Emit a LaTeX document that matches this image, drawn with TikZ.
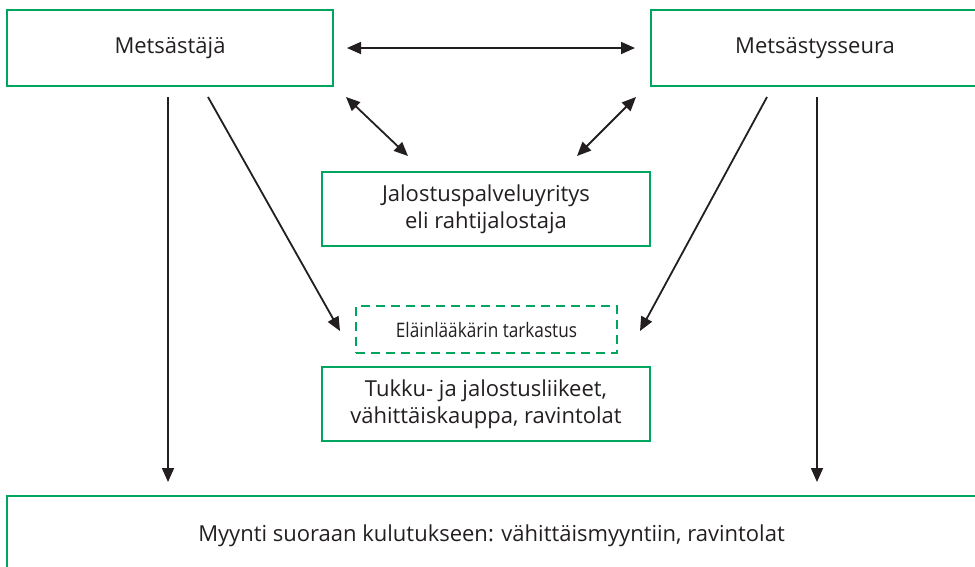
\documentclass[tikz,border=0pt]{standalone}
\usepackage{fontspec}
\setmainfont{Open Sans}
\newfontfamily\narrowfont[FakeStretch=0.86]{Open Sans}
\usepackage{tikz}
\usetikzlibrary{arrows.meta, positioning}
\definecolor{boxgreen}{HTML}{00A65E}
\definecolor{ink}{HTML}{231F20}
\tikzstyle{block} = [rectangle, draw=boxgreen, line width=2pt, text=ink,
                 align=center, font=\fontsize{22}{27}\selectfont]
\tikzstyle{branch} = [draw=ink, line width=1.8pt, -{Triangle[length=14pt,width=12pt]}]
\tikzset{
	checkbox/.style={block, dashed, dash pattern=on 9pt off 6pt,
		font=\narrowfont\fontsize{20}{24}\selectfont},
	both/.style={branch, {Triangle[length=14pt,width=12pt]}-{Triangle[length=14pt,width=12pt]}},
}
\begin{document}
\begin{tikzpicture}[x=1pt, y=-1pt]
\useasboundingbox (0,0) rectangle (975,566);

\node [block, minimum width=326, minimum height=76] at (170,48) (hunter) {Metsästäjä};
\node [block, minimum width=328, minimum height=76] at (815,48) (club) {Metsästysseura};
\node [block, minimum width=328, minimum height=74] at (486,209) (processor) {Jalostuspalveluyritys\\eli rahtijalostaja};
\node [checkbox, minimum width=261, minimum height=47] at (486.5,329.5) (vet) {Eläinlääkärin tarkastus};
\node [block, minimum width=328, minimum height=74] at (486,404) (trade) {Tukku- ja jalostusliikeet,\\vähittäiskauppa, ravintolat};
\node [block, minimum width=969, minimum height=80] at (491.5,536) (sale) {Myynti suoraan kulutukseen: vähittäismyyntiin, ravintolat};

%arrow ends
\coordinate (hp) at (346,97);
\coordinate (ph) at (408,156);
\coordinate (cp) at (636,97);
\coordinate (pc) at (577,156);
\coordinate (hv) at (208,97);
\coordinate (vh) at (340,331);
\coordinate (cv) at (767,97);
\coordinate (vc) at (640,331);
\coordinate (hs) at (168,97);
\coordinate (sh) at (168,482);
\coordinate (cs) at (817,97);
\coordinate (sc) at (817,482);

\path [both, shorten <=13pt, shorten >=15pt] (hunter.east) -- (club.west);
\path [both] (hp) -- (ph);
\path [both] (cp) -- (pc);
\path [branch] (hv) -- (vh);
\path [branch] (cv) -- (vc);
\path [branch] (hs) -- (sh);
\path [branch] (cs) -- (sc);

\end{tikzpicture}
\end{document}
